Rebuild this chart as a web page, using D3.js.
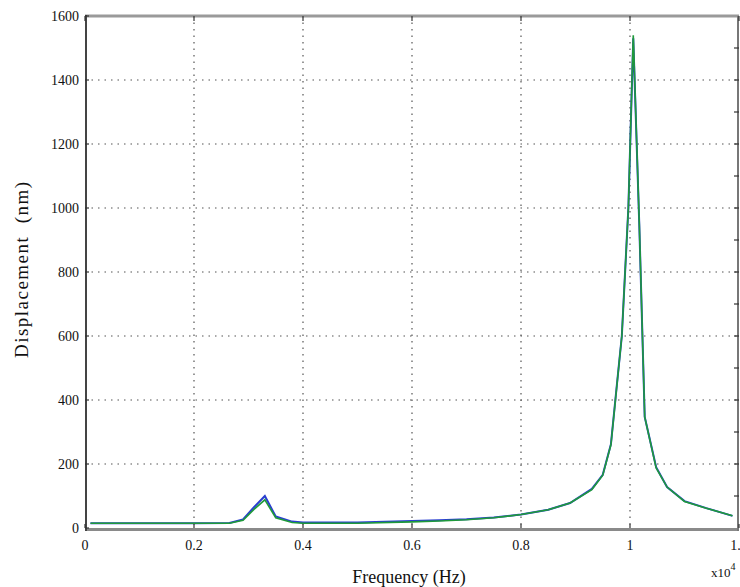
<!DOCTYPE html>
<html>
<head>
<meta charset="utf-8">
<script src="https://cdn.jsdelivr.net/npm/d3@7"></script>
<style>
  html, body { margin: 0; padding: 0; background: #fff; }
  svg { display: block; }
  text { font-family: "Liberation Serif", "DejaVu Serif", serif; fill: #111; }
</style>
</head>
<body>
<svg id="chart" width="740" height="587"></svg>
<script>
// ---- data (frequency in units of 10^4 Hz, displacement in nm) ----
const freq = [0.01, 0.10, 0.20, 0.265, 0.29, 0.31, 0.33, 0.35, 0.38, 0.40, 0.50, 0.60, 0.65, 0.70, 0.75, 0.80, 0.85, 0.89, 0.93, 0.95, 0.965, 0.975, 0.985, 0.997, 1.006, 1.017, 1.027, 1.048, 1.068, 1.10, 1.14, 1.188];
const blueValues  = [15, 15, 15, 16, 27, 65, 100, 36, 20, 17, 17, 22, 24, 27, 33, 42, 57, 78, 122, 166, 262, 432, 600, 1000, 1530, 950, 347, 190, 128, 84, 62, 38];
const greenValues = [15, 15, 15, 15, 24, 58, 88, 32, 17, 15, 15, 19, 22, 26, 32, 42, 57, 78, 120, 165, 260, 430, 600, 1000, 1540, 955, 347, 188, 128, 83, 62, 38];
const xTicks = [0, 0.2, 0.4, 0.6, 0.8, 1, 1.2];
const xTickLabels = ["0", "0.2", "0.4", "0.6", "0.8", "1", "1.2"];
const yTicks = [0, 200, 400, 600, 800, 1000, 1200, 1400, 1600];

const svg = d3.select("#chart");
const x = d3.scaleLinear().domain([0, 1.2]).range([85, 739]);
const y = d3.scaleLinear().domain([0, 1600]).range([528, 16]);

// grid
const grid = svg.append("g");
grid.selectAll(".gx").data(xTicks.slice(1, -1)).join("line")
  .attr("x1", d => x(d)).attr("x2", d => x(d))
  .attr("y1", y(1600)).attr("y2", y(0))
  .attr("stroke", "#555").attr("stroke-width", 1.2).attr("stroke-dasharray", "1.5,5");
grid.selectAll(".gy").data(yTicks.slice(1, -1)).join("line")
  .attr("x1", x(0)).attr("x2", x(1.2))
  .attr("y1", d => y(d)).attr("y2", d => y(d))
  .attr("stroke", "#555").attr("stroke-width", 1.2).attr("stroke-dasharray", "1.5,5");

// lines
const line = d3.line().x((d, i) => x(freq[i])).y(d => y(d));
svg.append("path").datum(blueValues).attr("d", line)
  .attr("fill", "none").attr("stroke", "#2a3fd0").attr("stroke-width", 2);
svg.append("path").datum(greenValues).attr("d", line)
  .attr("fill", "none").attr("stroke", "#1f9a3a").attr("stroke-width", 1.6);

// frame
svg.append("line").attr("x1", x(0)).attr("x2", x(1.2)).attr("y1", y(1600)).attr("y2", y(1600))
  .attr("stroke", "#9a9a9a").attr("stroke-width", 3);
svg.append("line").attr("x1", x(0)).attr("x2", x(1.2)).attr("y1", y(0) + 1.5).attr("y2", y(0) + 1.5)
  .attr("stroke", "#8a8a8a").attr("stroke-width", 3);
svg.append("line").attr("x1", x(1.2) - 1).attr("x2", x(1.2) - 1).attr("y1", y(1600)).attr("y2", y(0) + 3)
  .attr("stroke", "#777").attr("stroke-width", 2);
svg.append("line").attr("x1", x(0) + 1).attr("x2", x(0) + 1).attr("y1", y(1600) - 1).attr("y2", y(0) + 3)
  .attr("stroke", "#444").attr("stroke-width", 2);

// small ticks
const ticks = svg.append("g").attr("stroke", "#333").attr("stroke-width", 1.2);
ticks.selectAll(".ty").data(yTicks).join("line")
  .attr("x1", x(0)).attr("x2", x(0) + 4).attr("y1", d => y(d)).attr("y2", d => y(d));
ticks.selectAll(".tyr").data(d3.range(100, 1600, 100)).join("line")
  .attr("x1", x(1.2) - 5).attr("x2", x(1.2)).attr("y1", d => y(d)).attr("y2", d => y(d));
ticks.selectAll(".tx").data(xTicks).join("line")
  .attr("x1", d => x(d)).attr("x2", d => x(d)).attr("y1", y(0)).attr("y2", y(0) - 4);
ticks.selectAll(".txt").data(xTicks).join("line")
  .attr("x1", d => x(d)).attr("x2", d => x(d)).attr("y1", y(1600)).attr("y2", y(1600) + 5);

// tick labels
svg.append("g").selectAll("text").data(yTicks).join("text")
  .attr("x", 79).attr("y", d => y(d)).attr("dy", "0.35em")
  .attr("text-anchor", "end").attr("font-size", 14).attr("fill", "#222")
  .text(d => d);
svg.append("g").selectAll("text").data(xTicks).join("text")
  .attr("x", d => x(d)).attr("y", 550)
  .attr("text-anchor", "middle").attr("font-size", 14).attr("fill", "#222")
  .text((d, i) => xTickLabels[i]);

// exponent
const ex = svg.append("text").attr("x", 711).attr("y", 577).attr("font-size", 13).attr("fill", "#333");
ex.append("tspan").text("x10");
ex.append("tspan").attr("dy", -7).attr("font-size", 10).text("4");

// axis titles
svg.append("text").attr("x", 409).attr("y", 583).attr("text-anchor", "middle")
  .attr("font-size", 18).text("Frequency (Hz)");
svg.append("text").attr("transform", "translate(28,270) rotate(-90)")
  .attr("text-anchor", "middle").attr("font-size", 19)
  .attr("textLength", 176).attr("lengthAdjust", "spacing")
  .style("white-space", "pre").text("Displacement  (nm)");
</script>
</body>
</html>
